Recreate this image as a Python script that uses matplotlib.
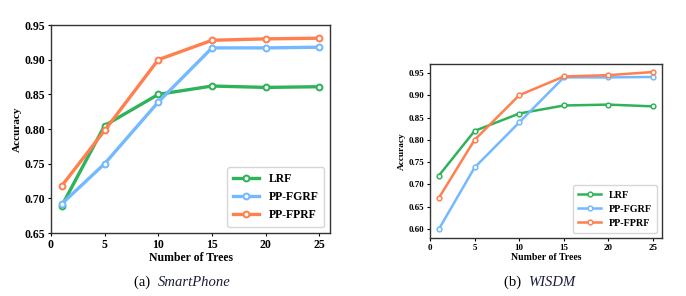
import matplotlib
matplotlib.use('Agg')
import matplotlib.pyplot as plt

plt.rcParams['font.family'] = ['Liberation Serif', 'DejaVu Serif']
plt.rcParams['font.weight'] = 'bold'

trees = [1, 5, 10, 15, 20, 25]
series_names = ['LRF', 'PP-FGRF', 'PP-FPRF']
colors = ['#2fb35a', '#74b9ff', '#ff7f4f']

# (a) SmartPhone
sp_lrf = [0.689, 0.805, 0.850, 0.862, 0.860, 0.861]
sp_fgrf = [0.692, 0.750, 0.839, 0.917, 0.917, 0.918]
sp_fprf = [0.718, 0.798, 0.900, 0.928, 0.930, 0.931]

# (b) WISDM
wi_lrf = [0.720, 0.820, 0.859, 0.877, 0.879, 0.875]
wi_fgrf = [0.600, 0.738, 0.839, 0.940, 0.940, 0.941]
wi_fprf = [0.670, 0.800, 0.900, 0.942, 0.945, 0.952]

fig = plt.figure(figsize=(6.86, 2.96), dpi=100)
ax1 = fig.add_axes([0.0743, 0.2128, 0.407, 0.7027])
ax2 = fig.add_axes([0.6268, 0.196, 0.3382, 0.5878])


def draw(ax, data, ylim, yticks, fs, xfs, lw, ms, lfs):
    for vals, name, c in zip(data, series_names, colors):
        ax.plot(trees, vals, color=c, lw=lw, marker='o', ms=ms,
                mfc='white', mec=c, mew=lw * 0.6, label=name)
    ax.set_xlim(0, 26)
    ax.set_ylim(*ylim)
    ax.set_xticks([0, 5, 10, 15, 20, 25])
    ax.set_yticks(yticks)
    ax.set_yticklabels(['%.2f' % v for v in yticks])
    ax.tick_params(labelsize=fs, length=2.5, width=0.8, pad=1.5)
    for s in ax.spines.values():
        s.set_linewidth(1.0)
        s.set_color('#333333')
    ax.set_xlabel('Number of Trees', fontsize=xfs, fontweight='bold', labelpad=1)
    ax.set_ylabel('Accuracy', fontsize=xfs * 0.95, fontweight='bold', labelpad=2)
    leg = ax.legend(loc='lower right', fontsize=lfs, handlelength=2.2,
                    borderpad=0.5, labelspacing=0.5, fancybox=True)
    leg.get_frame().set_edgecolor('#cccccc')


draw(ax1, [sp_lrf, sp_fgrf, sp_fprf], (0.65, 0.95),
     [0.65, 0.70, 0.75, 0.80, 0.85, 0.90, 0.95], 8.5, 8.5, 2.4, 4.2, 8.5)
draw(ax2, [wi_lrf, wi_fgrf, wi_fprf], (0.58, 0.97),
     [0.60, 0.65, 0.70, 0.75, 0.80, 0.85, 0.90, 0.95], 6.5, 7, 1.8, 3.4, 7.3)

cap_color = '#1c1c3c'
cap_fs = 10.5
fig.text(0.230, 0.045, '(a)  ', ha='right', va='center', fontsize=cap_fs,
         fontweight='normal', color='black')
fig.text(0.230, 0.045, 'SmartPhone', ha='left', va='center', fontsize=cap_fs,
         fontweight='normal', style='italic', color=cap_color)
fig.text(0.770, 0.045, '(b)  ', ha='right', va='center', fontsize=cap_fs,
         fontweight='normal', color='black')
fig.text(0.770, 0.045, 'WISDM', ha='left', va='center', fontsize=cap_fs,
         fontweight='normal', style='italic', color=cap_color)

fig.savefig('out.png', dpi=100)
